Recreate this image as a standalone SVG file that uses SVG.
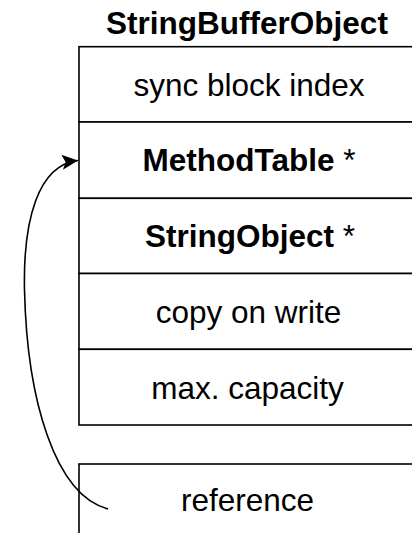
<svg xmlns="http://www.w3.org/2000/svg" width="412" height="533" viewBox="0 0 412 533">
  <style>
    .cell { fill: #ffffff; stroke: #000000; stroke-width: 1.6; }
    .t { font-family: "Liberation Sans", Arial, Helvetica, sans-serif; font-size: 31.5px; fill: #000000; text-anchor: middle; }
    .b { font-weight: bold; }
    .conn { fill: none; stroke: #000000; stroke-width: 1.6; }
  </style>
  <defs>
    <marker id="arrow" markerUnits="userSpaceOnUse" markerWidth="18" markerHeight="16" refX="16" refY="7.5" orient="auto">
      <path d="M0,0 L16,7.5 L0,15 L3.5,7.5 Z" fill="#000000"/>
    </marker>
  </defs>
  <rect width="412" height="533" fill="#ffffff"/>

  <g id="StringBufferObject">
    <text class="t b" x="247" y="34">StringBufferObject</text>
    <g id="sync-block-index">
      <rect class="cell" x="79" y="46.7" width="345" height="75.3"/>
      <text class="t" x="249" y="95.5">sync block index</text>
    </g>
    <g id="method-table">
      <rect class="cell" x="79" y="122" width="345" height="76.3"/>
      <text class="t" x="249" y="171"><tspan class="b">MethodTable</tspan> *</text>
    </g>
    <g id="string-object">
      <rect class="cell" x="79" y="198.3" width="345" height="75.2"/>
      <text class="t" x="250" y="246.5"><tspan class="b">StringObject</tspan> *</text>
    </g>
    <g id="copy-on-write">
      <rect class="cell" x="79" y="273.5" width="345" height="75.8"/>
      <text class="t" x="248.5" y="322.5">copy on write</text>
    </g>
    <g id="max-capacity">
      <rect class="cell" x="79" y="349.3" width="345" height="75.7"/>
      <text class="t" x="247.5" y="398.5">max. capacity</text>
    </g>
  </g>

  <g id="reference">
    <rect class="cell" x="79" y="464" width="345" height="100"/>
    <text class="t" x="247.5" y="510.5">reference</text>
  </g>

  <g id="connectors">
    <path class="conn" d="M108,509 C55,495 27,400 24.5,290 C23,220 38,165 78,160.5" marker-end="url(#arrow)"/>
  </g>
</svg>
